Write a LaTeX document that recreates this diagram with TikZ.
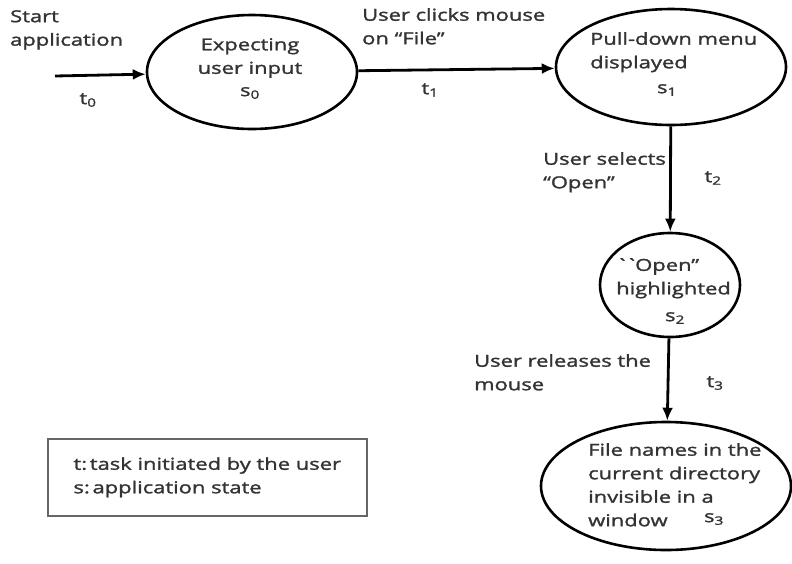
\documentclass[tikz,border=0pt]{standalone}
\usepackage{fontspec}
\setmainfont{Open Sans}[FakeStretch=1.33,FakeBold=1.6]
\usetikzlibrary{shapes.geometric,arrows.meta}
\definecolor{ink}{gray}{0.2}

\begin{document}
\begin{tikzpicture}[x=1pt,y=-1pt,font=\fontsize{16.5}{23.5}\selectfont,text=ink]
\useasboundingbox (0,0) rectangle (792,563);
\tikzset{state/.style={draw,ellipse,line width=2.6pt,inner sep=0pt},
  lbl/.style={anchor=north west,align=left,inner sep=0pt},
  move/.style={->,>={Latex[length=13pt,width=11pt]},line width=2.8pt}}
% states
\node[state,minimum width=210,minimum height=114] (s0)at(252,72){};
\node[state,minimum width=230,minimum height=116] (s1)at(671,67){};
\node[state,minimum width=140,minimum height=104] (s2)at(670,285){};
\node[state,minimum width=250,minimum height=128] (s3)at(666,486){};
\node[align=center] (e0)at(250,58){Expecting\\user input};
\node (l0)at(250,93){s\textsubscript{0}};
\node[lbl] (e1)at(590,32){Pull-down menu\\displayed};
\node (l1)at(667,90){s\textsubscript{1}};
\node[lbl] (e2)at(616,258){\textasciigrave\textasciigrave Open"\\highlighted};
\node (l2)at(675,318){s\textsubscript{2}};
\node[lbl] (e3)at(588,443){File names in the\\current directory\\invisible in a\\window};
\node (l3)at(714,519){s\textsubscript{3}};
% transitions
\coordinate (go)at(55,76);
\node[lbl] (a0)at(10,10){Start\\application};
\draw[move] (go) to (s0);
\node (t0)at(88,100){t\textsubscript{0}};
\draw[move] (s0) to (s1);
\node[lbl] (a1)at(362,8){User clicks mouse\\on “File”};
\node (t1)at(430,90){t\textsubscript{1}};
\draw[move] (s1) to (s2);
\node[lbl] (a2)at(543,152){User selects\\“Open”};
\node (t2)at(713,178){t\textsubscript{2}};
\draw[move] (s2) to (s3);
\node[lbl] (a3)at(474,354){User releases the\\mouse};
\node (t3)at(715,383){t\textsubscript{3}};
% key
\node[draw=gray!80!black,line width=1.5pt,anchor=north west,align=left,
  minimum width=319,minimum height=77,inner xsep=19] (key)at(47,438)
  {t:\,task initiated by the user\\s:\,application state};
\end{tikzpicture}
\end{document}
